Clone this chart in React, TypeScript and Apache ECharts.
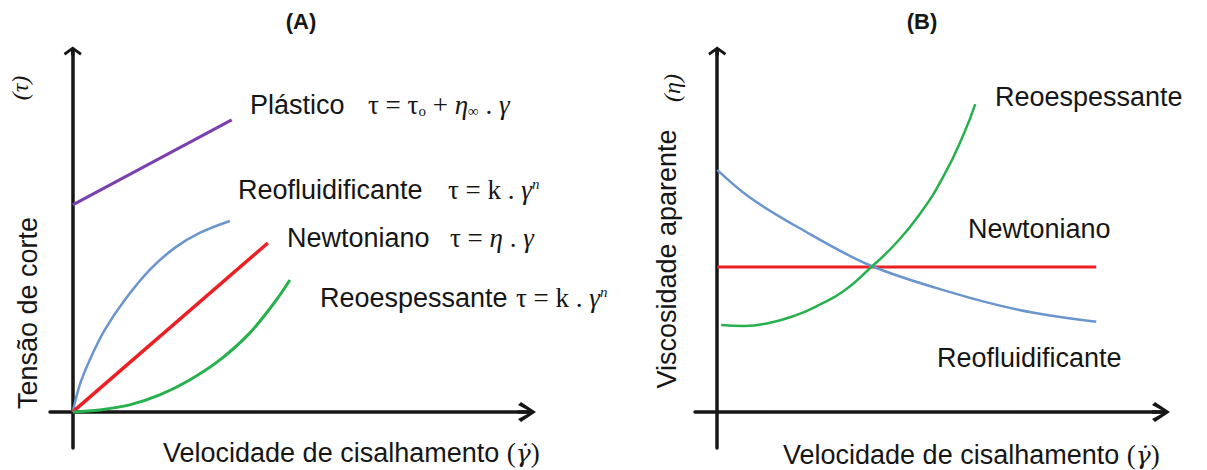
import React, { useEffect, useRef } from "react";
import * as echarts from "echarts";

// ---------- Data (arbitrary units: x = shear rate, y = stress / viscosity) ----------
// Panel A: shear stress vs shear rate
const plasticoA: number[][] = [[0, 11.47], [7.0, 16.18]];
const reofluidA: number[][] = [
  [0, 0], [0.31, 1.5], [0.75, 2.88], [1.41, 4.54], [2.29, 6.2], [3.39, 7.87],
  [4.49, 9.09], [5.59, 9.92], [6.92, 10.58],
];
const newtonianoA: number[][] = [[0, 0], [8.59, 9.36]];
const reoespA: number[][] = [
  [0, 0], [1.19, 0.11], [2.51, 0.39], [3.83, 0.94], [5.15, 1.77], [6.48, 2.88],
  [7.8, 4.38], [8.9, 6.09], [9.56, 7.31],
];

// Panel B: apparent viscosity vs shear rate
const reofluidB: number[][] = [
  [0, 13.41], [1.44, 11.91], [3.7, 10.19], [6.85, 8.14], [10.46, 6.65],
  [13.61, 5.65], [17.08, 4.99],
];
const newtonianoB: number[][] = [[0, 8.03], [17.08, 8.03]];
const reoespB: number[][] = [
  [0.18, 4.82], [1.22, 4.76], [2.34, 4.93], [3.47, 5.32], [4.6, 5.93], [5.72, 6.71],
  [6.85, 7.92], [7.98, 9.25], [9.1, 10.91], [10.23, 13.13], [11.13, 15.46], [11.63, 17.06],
];

const xRange = [-1, 20];
const yRange = [-2, 20];

// ---------- Styling ----------
const SANS = '"Liberation Sans", Arial, sans-serif';
const SERIF = '"Liberation Serif", "DejaVu Serif", "Times New Roman", serif';
const DOTSERIF = '"DejaVu Serif", "Liberation Serif", serif';
const INK = "#161616";
const PURPLE = "#7b40b0";
const BLUE = "#6a95cf";
const RED = "#ec1f25";
const GREEN = "#27b14d";

const ARROW_X =
  "path://M10,0 L20,15 L17,18 L11.75,8.25 L11.75,18 L8.25,18 L8.25,8.25 L3,18 L0,15 Z";
const ARROW_Y =
  "path://M9,0 L18,6.5 L16.5,9 L10.75,4.78 L10.75,9 L7.25,9 L7.25,4.78 L1.5,9 L0,6.5 Z";

function xAxisCfg(gridIndex: number) {
  return {
    type: "value",
    gridIndex,
    min: xRange[0],
    max: xRange[1],
    axisLine: {
      show: true,
      onZero: true,
      symbol: ["none", ARROW_X],
      symbolSize: [20, 18],
      lineStyle: { color: INK, width: 3.5 },
    },
    axisTick: { show: false },
    axisLabel: { show: false },
    splitLine: { show: false },
  };
}
function yAxisCfg(gridIndex: number) {
  return {
    type: "value",
    gridIndex,
    min: yRange[0],
    max: yRange[1],
    axisLine: {
      show: true,
      onZero: true,
      symbol: ["none", ARROW_Y],
      symbolSize: [18, 9],
      lineStyle: { color: INK, width: 3.5 },
    },
    axisTick: { show: false },
    axisLabel: { show: false },
    splitLine: { show: false },
  };
}

function lineSeries(idx: number, data: number[][], color: string, width: number, smooth: number | false) {
  return {
    type: "line",
    xAxisIndex: idx,
    yAxisIndex: idx,
    data,
    smooth,
    showSymbol: false,
    symbol: "none",
    lineStyle: { color, width },
    silent: true,
  };
}

const eqRich = {
  a: { fontFamily: SERIF, fontSize: 27, color: INK },
  i: { fontFamily: SERIF, fontSize: 27, fontStyle: "italic", color: INK },
  s: { fontFamily: SERIF, fontSize: 15, color: INK, verticalAlign: "bottom" },
  u: { fontFamily: SERIF, fontSize: 15, fontStyle: "italic", color: INK, verticalAlign: "top" },
};

function label(x: number, y: number, text: string, size = 27) {
  return {
    type: "text",
    x,
    y,
    silent: true,
    style: {
      text,
      fill: INK,
      font: `${size}px ${SANS}`,
      align: "left",
      verticalAlign: "middle",
      textAlign: "left",
      textVerticalAlign: "middle",
    },
  };
}
function eq(x: number, y: number, text: string) {
  return {
    type: "text",
    x,
    y,
    silent: true,
    style: {
      text,
      rich: eqRich,
      fill: INK,
      font: `27px ${SERIF}`,
      align: "left",
      verticalAlign: "middle",
      textAlign: "left",
      textVerticalAlign: "middle",
    },
  };
}
function rotated(x: number, y: number, text: string, font: string) {
  return {
    type: "text",
    x,
    y,
    rotation: Math.PI / 2,
    silent: true,
    style: {
      text,
      fill: INK,
      font,
      align: "center",
      verticalAlign: "middle",
      textAlign: "center",
      textVerticalAlign: "middle",
    },
  };
}
function xName(x: number, y: number) {
  return {
    type: "text",
    x,
    y,
    silent: true,
    style: {
      text: "{t|Velocidade de cisalhamento }{p|(}{i|\u03b3\u0307}{p|)}",
      rich: {
        t: { fontFamily: SANS, fontSize: 27, color: INK },
        p: { fontFamily: SERIF, fontSize: 27, color: INK },
        i: { fontFamily: DOTSERIF, fontSize: 25, fontStyle: "italic", color: INK },
      },
      fill: INK,
      font: `27px ${SANS}`,
      align: "left",
      verticalAlign: "middle",
      textAlign: "left",
      textVerticalAlign: "middle",
    },
  };
}
function title(x: number, text: string) {
  return {
    type: "text",
    x,
    y: 21,
    silent: true,
    style: {
      text,
      fill: INK,
      font: `bold 22px ${SANS}`,
      align: "center",
      verticalAlign: "middle",
      textAlign: "center",
      textVerticalAlign: "middle",
    },
  };
}

export default function App() {
  const ref = useRef<HTMLDivElement>(null);
  useEffect(() => {
    if (!ref.current) return;
    const chart = echarts.init(ref.current, null, { renderer: "svg" });
    chart.setOption({
      animation: false,
      backgroundColor: "#ffffff",
      grid: [
        { left: 50, top: 51, width: 477, height: 397 },
        { left: 695, top: 51, width: 466, height: 397 },
      ],
      xAxis: [xAxisCfg(0), xAxisCfg(1)],
      yAxis: [yAxisCfg(0), yAxisCfg(1)],
      series: [
        lineSeries(0, plasticoA, PURPLE, 3, false),
        lineSeries(0, reofluidA, BLUE, 2.5, 0.35),
        lineSeries(0, newtonianoA, RED, 3.5, false),
        lineSeries(0, reoespA, GREEN, 3, 0.35),
        lineSeries(1, newtonianoB, RED, 3, false),
        lineSeries(1, reofluidB, BLUE, 2.5, 0.35),
        lineSeries(1, reoespB, GREEN, 2.5, 0.5),
      ],
      graphic: [
        title(301, "(A)"),
        title(922, "(B)"),
        // Panel A annotations
        label(250, 105, "Plástico"),
        eq(368, 105, "{a|\u03c4 = \u03c4}{s|o}{a| + }{i|\u03b7}{s|\u221e}{a| . }{i|\u03b3}"),
        label(238, 190, "Reofluidificante"),
        eq(448, 190, "{a|\u03c4 = k . }{i|\u03b3}{u|n}"),
        label(287, 238, "Newtoniano"),
        eq(450, 238, "{a|\u03c4 = }{i|\u03b7}{a| . }{i|\u03b3}"),
        label(320, 298, "Reoespessante"),
        eq(516, 298, "{a|\u03c4 = k . }{i|\u03b3}{u|n}"),
        rotated(28, 313, "Tensão de corte", `27px ${SANS}`),
        rotated(20, 88, "(\u03c4)", `italic 24px ${SERIF}`),
        xName(163, 453),
        // Panel B annotations
        label(995, 97, "Reoespessante"),
        label(968, 229, "Newtoniano"),
        label(937, 358, "Reofluidificante"),
        rotated(667, 259, "Viscosidade aparente", `27px ${SANS}`),
        rotated(672, 88, "(\u03b7)", `italic 24px ${SERIF}`),
        xName(783, 455),
      ],
    });
    return () => chart.dispose();
  }, []);
  return (
    <div
      ref={ref}
      style={{ position: "fixed", left: 0, top: 0, width: 1207, height: 470, background: "#fff" }}
    />
  );
}
